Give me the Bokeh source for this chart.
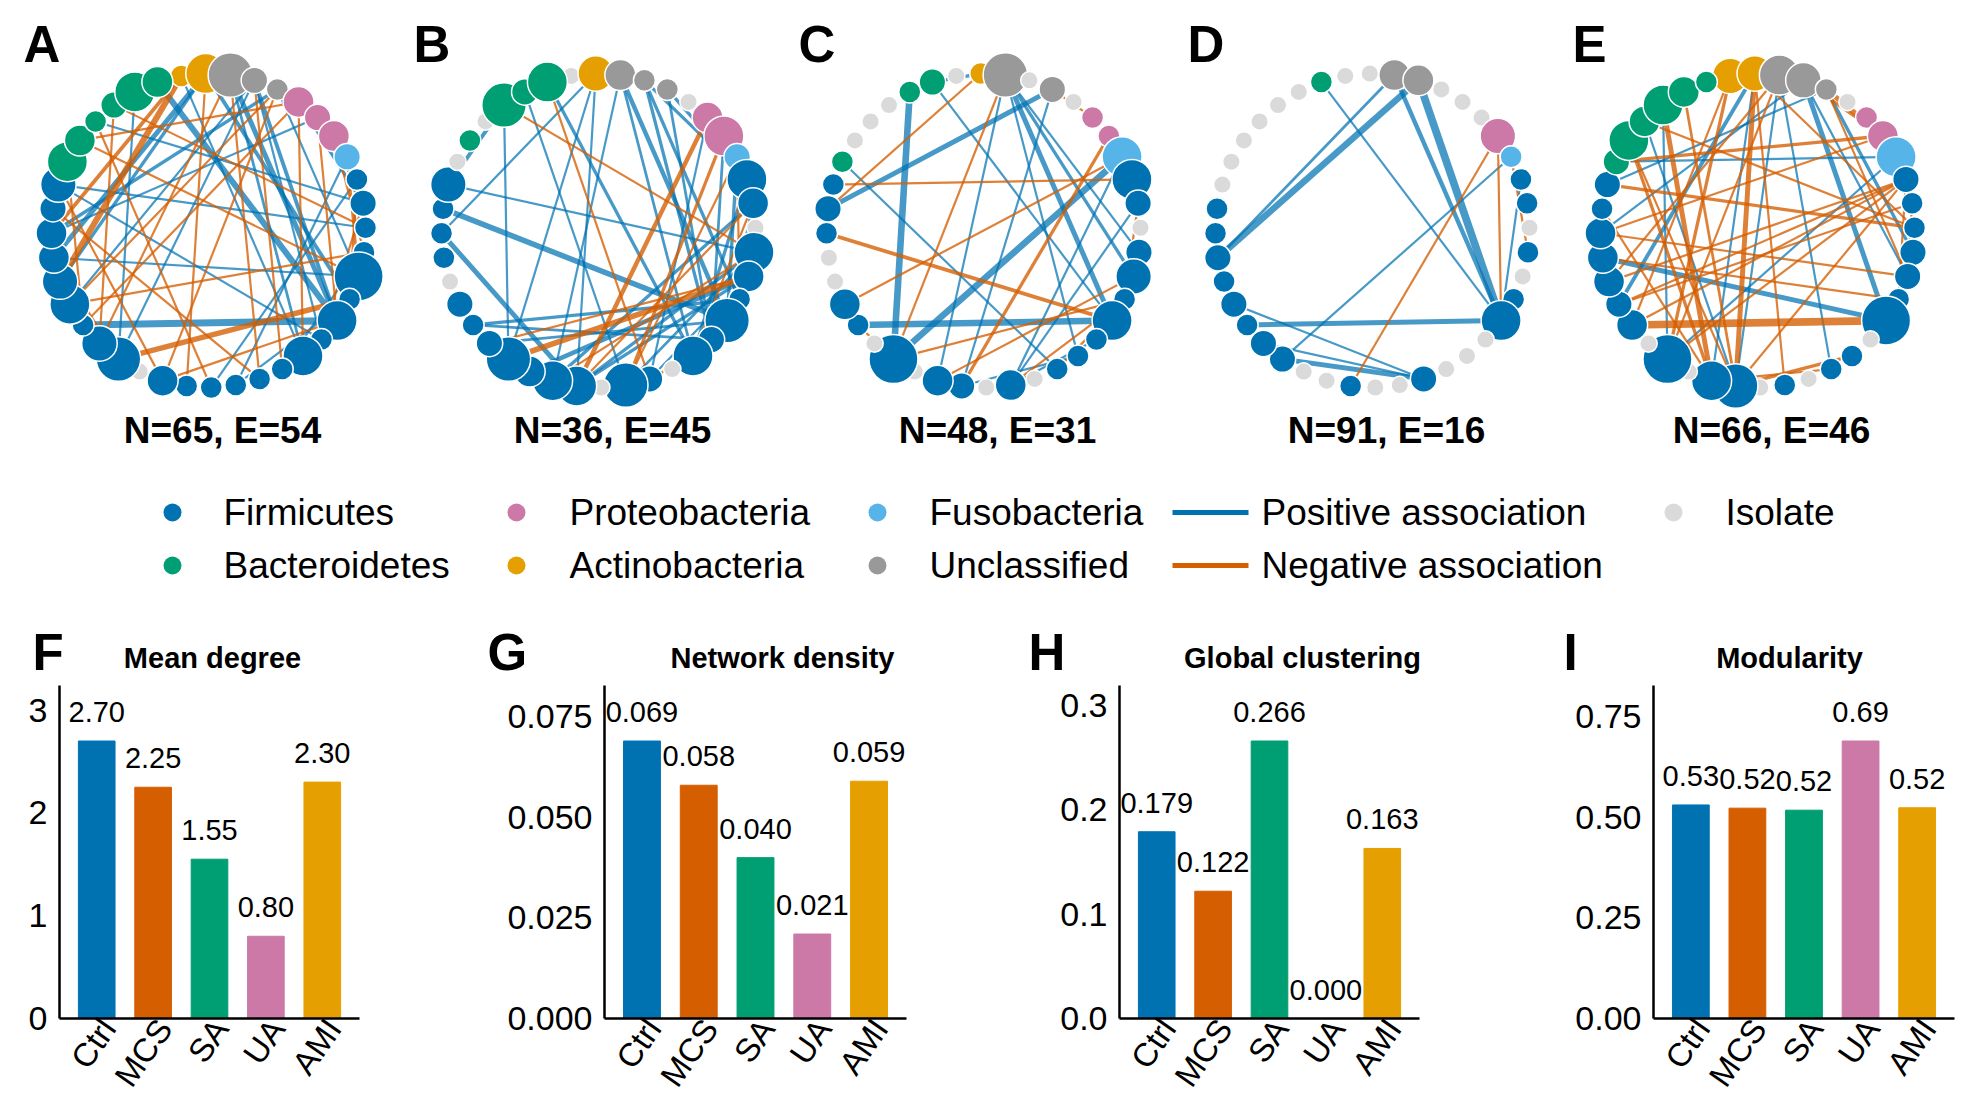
import numpy as np
from bokeh.plotting import figure
from bokeh.layouts import column, row
from bokeh.models import Range1d, FixedTicker, PrintfTickFormatter
from bokeh.core.properties import value
from bokeh.embed import file_html
from bokeh.resources import INLINE

FONT = "Liberation Sans"

# ---------------- data ----------------
phylum_names = ["Firmicutes", "Bacteroidetes", "Proteobacteria", "Actinobacteria",
                "Fusobacteria", "Unclassified", "Isolate"]
phylum_codes = ["Fi", "Ba", "Pr", "Ac", "Fu", "Un", "Is"]
phylum_colors = ["#0072B2", "#009E73", "#CC79A7", "#E69F00", "#56B4E9", "#999999", "#DADADA"]

panel_letters = ["A", "B", "C", "D", "E"]
net_N = [65, 36, 48, 91, 66]
net_E = [54, 45, 31, 16, 46]

# node phylum per position around the circle (clockwise from top)
nodes_A = ["Ac", "Ac", "Un", "Un", "Un", "Pr", "Pr", "Pr", "Fu",
           "Fi", "Fi", "Fi", "Fi", "Fi", "Fi", "Fi", "Fi", "Fi", "Fi", "Fi", "Fi", "Fi", "Fi", "Fi",
           "Is", "Fi", "Fi", "Fi", "Fi", "Fi", "Fi", "Fi", "Fi", "Fi",
           "Ba", "Ba", "Ba", "Ba", "Ba", "Ba"]
abund_A = [2, 6, 7, 3, 2, 4, 3, 4, 3,
           2, 3, 2, 2, 8, 2, 6, 2, 6, 2, 2, 2, 2, 2, 4,
           1, 7, 5, 2, 6, 5, 4, 4, 3, 5,
           6, 4, 2, 3, 6, 4]
nodes_B = ["Is", "Ac", "Un", "Un", "Un", "Is", "Pr", "Pr", "Fu", "Fi",
           "Fi", "Is", "Fi", "Fi", "Fi", "Fi", "Fi", "Fi", "Is", "Fi",
           "Fi", "Is", "Fi", "Fi", "Fi", "Fi", "Fi", "Fi", "Fi", "Is",
           "Fi", "Fi", "Fi", "Fi", "Is", "Ba", "Is", "Ba", "Ba", "Ba"]
abund_B = [1, 5, 4, 2, 2, 1, 4, 6, 3, 6,
           4, 1, 6, 4, 2, 7, 3, 6, 1, 3,
           7, 1, 6, 6, 4, 7, 3, 2, 3, 1,
           2, 2, 2, 5, 1, 2, 1, 7, 3, 6]
nodes_C = ["Is", "Ac", "Un", "Is", "Un", "Is", "Pr", "Pr", "Fu", "Fi",
           "Fi", "Is", "Fi", "Fi", "Fi", "Fi", "Fi", "Fi", "Fi", "Is",
           "Fi", "Is", "Fi", "Fi", "Is", "Fi", "Is", "Fi", "Fi", "Is",
           "Is", "Fi", "Fi", "Fi", "Ba", "Is", "Is", "Is", "Ba", "Ba"]
abund_C = [1, 2, 7, 1, 3, 1, 2, 2, 6, 6,
           3, 1, 3, 5, 2, 6, 2, 2, 2, 1,
           4, 1, 3, 4, 1, 8, 1, 2, 4, 1,
           1, 2, 3, 2, 2, 1, 1, 1, 2, 3]
nodes_D = ["Is", "Is", "Un", "Un", "Is", "Is", "Is", "Pr", "Fu", "Fi",
           "Fi", "Is", "Fi", "Is", "Fi", "Fi", "Is", "Is", "Is", "Fi",
           "Is", "Is", "Fi", "Is", "Is", "Fi", "Fi", "Fi", "Fi", "Fi",
           "Fi", "Fi", "Fi", "Is", "Is", "Is", "Is", "Is", "Is", "Ba"]
abund_D = [1, 1, 4, 4, 1, 1, 1, 5, 2, 2,
           2, 1, 2, 1, 2, 6, 1, 1, 1, 3,
           1, 1, 2, 1, 1, 3, 3, 2, 3, 2,
           3, 2, 2, 1, 1, 1, 1, 1, 1, 2]
nodes_E = ["Ac", "Ac", "Un", "Un", "Un", "Is", "Pr", "Pr", "Fu", "Fi",
           "Fi", "Fi", "Fi", "Fi", "Fi", "Fi", "Is", "Fi", "Fi", "Is",
           "Fi", "Is", "Fi", "Fi", "Is", "Fi", "Is", "Fi", "Fi", "Fi",
           "Fi", "Fi", "Fi", "Fi", "Ba", "Ba", "Ba", "Ba", "Ba", "Ba"]
abund_E = [5, 5, 6, 5, 2, 1, 2, 4, 6, 3,
           2, 2, 3, 3, 2, 8, 1, 2, 2, 1,
           2, 1, 7, 6, 1, 8, 1, 4, 3, 4,
           4, 4, 2, 3, 3, 6, 4, 6, 4, 2]

# edges: (node i, node j, sign, |correlation|)
edges_A = [(27, 15, 1, .75), (39, 15, 1, .65), (2, 15, 1, .55), (3, 15, 1, .45), (1, 30, 1, .55),
           (1, 29, 1, .4), (4, 31, 1, .4), (33, 11, 1, .3), (36, 10, 1, .3), (33, 16, 1, .3),
           (38, 25, 1, .3), (0, 17, 1, .3), (8, 20, 1, .3), (9, 21, 1, .3), (1, 14, 1, .45),
           (4, 13, 1, .3), (5, 10, 1, .4), (30, 13, 1, .3), (28, 3, 1, .3), (14, 20, 1, .3),
           (25, 3, 1, .3), (2, 17, 1, .35), (3, 16, 1, .3), (12, 18, 1, .3), (31, 6, 1, .3),
           (29, 0, -1, .65), (25, 14, -1, .6), (35, 5, -1, .3), (37, 11, -1, .3), (1, 22, -1, .3),
           (4, 23, -1, .3), (3, 18, -1, .3), (5, 17, -1, .3), (28, 12, -1, .3), (31, 26, -1, .3),
           (30, 25, -1, .3), (34, 27, -1, .3), (33, 23, -1, .3), (9, 14, -1, .3), (8, 13, -1, .35),
           (26, 2, -1, .3), (28, 4, -1, .3), (36, 21, -1, .3), (32, 19, -1, .3), (6, 15, -1, .3),
           (37, 26, -1, .3), (7, 12, -1, .3), (31, 0, -1, .45), (23, 15, -1, .3), (35, 13, -1, .3),
           (2, 19, -1, .3), (10, 16, -1, .3), (27, 5, -1, .3), (32, 27, -1, .3)]
edges_B = [(33, 37, 1, .45), (33, 12, 1, .3), (32, 15, 1, .6), (31, 22, 1, .55), (31, 1, 1, .3),
           (27, 14, 1, .4), (37, 25, 1, .3), (39, 2, 1, .4), (39, 17, 1, .4), (1, 22, 1, .3),
           (2, 23, 1, .3), (2, 15, 1, .5), (3, 14, 1, .4), (3, 9, 1, .4), (4, 9, 1, .4),
           (3, 16, 1, .4), (4, 16, 1, .35), (6, 19, 1, .3), (9, 17, 1, .4), (10, 15, 1, .3),
           (24, 13, 1, .5), (22, 12, 1, .4), (23, 10, 1, .4), (22, 13, 1, .4), (27, 16, 1, .35),
           (26, 15, 1, .35), (2, 17, 1, .35), (8, 15, 1, .4), (7, 16, 1, .35), (1, 25, 1, .3),
           (38, 20, 1, .3), (19, 13, 1, .3), (20, 12, 1, .35),
           (25, 13, -1, .6), (22, 6, -1, .5), (20, 7, -1, .4), (37, 12, -1, .3), (39, 19, -1, .3),
           (22, 10, -1, .3), (20, 8, -1, .3), (8, 14, -1, .3), (19, 17, -1, .35), (23, 12, -1, .3),
           (26, 13, -1, .3), (17, 10, -1, .3)]
edges_C = [(38, 25, 1, .7), (25, 8, 1, .7), (27, 15, 1, .7), (32, 4, 1, .55), (23, 2, 1, .3),
           (39, 15, 1, .3), (34, 18, 1, .3), (2, 15, 1, .55), (2, 17, 1, .3), (2, 12, 1, .3),
           (4, 22, 1, .3), (8, 20, 1, .3), (10, 20, 1, .3), (22, 17, 1, .3), (1, 39, 1, .4),
           (2, 13, 1, .4), (20, 16, 1, .3),
           (33, 9, -1, .3), (32, 1, -1, .3), (31, 15, -1, .45), (28, 8, -1, .3), (25, 14, -1, .3),
           (22, 7, -1, .4), (25, 2, -1, .3), (20, 14, -1, .3), (4, 6, -1, .3), (10, 14, -1, .3),
           (27, 25, -1, .3), (23, 13, -1, .3), (25, 23, -1, .3), (18, 14, -1, .3)]
edges_D = [(30, 2, 1, .35), (30, 3, 1, .7), (39, 15, 1, .3), (3, 15, 1, .8), (2, 15, 1, .5),
           (27, 15, 1, .55), (28, 19, 1, .3), (25, 19, 1, .55), (25, 8, 1, .3), (30, 29, 1, .3),
           (26, 19, 1, .3), (9, 15, 1, .3), (31, 29, 1, .3),
           (22, 7, -1, .3), (7, 15, -1, .3), (8, 12, -1, .3)]
edges_E = [(30, 15, 1, .55), (3, 15, 1, .55), (4, 12, 1, .4), (1, 28, 1, .45), (3, 31, 1, .3),
           (2, 22, 1, .3), (37, 25, 1, .3), (36, 22, 1, .3), (33, 4, 1, .3), (8, 25, 1, .3),
           (2, 18, 1, .3), (3, 13, 1, .3), (34, 8, 1, .3), (1, 23, 1, .3),
           (27, 15, -1, .8), (37, 23, -1, .55), (1, 22, -1, .55), (0, 25, -1, .4), (34, 7, -1, .4),
           (33, 11, -1, .4), (35, 23, -1, .4), (31, 13, -1, .3), (9, 28, -1, .3), (9, 25, -1, .3),
           (9, 22, -1, .3), (4, 7, -1, .55), (4, 13, -1, .3), (1, 11, -1, .3), (2, 25, -1, .3),
           (32, 23, -1, .3), (27, 9, -1, .3), (9, 14, -1, .3), (10, 13, -1, .3), (22, 17, -1, .4),
           (36, 11, -1, .3), (35, 22, -1, .3), (31, 7, -1, .3), (0, 27, -1, .3), (29, 9, -1, .3),
           (38, 22, -1, .35), (3, 7, -1, .4), (1, 20, -1, .3), (30, 14, -1, .3), (28, 10, -1, .3),
           (23, 18, -1, .3), (2, 29, -1, .3)]

groups = ["Ctrl", "MCS", "SA", "UA", "AMI"]
group_colors = ["#0072B2", "#D55E00", "#009E73", "#CC79A7", "#E69F00"]
mean_degree = [2.70, 2.25, 1.55, 0.80, 2.30]
network_density = [0.069, 0.058, 0.040, 0.021, 0.059]
global_clustering = [0.179, 0.122, 0.266, 0.000, 0.163]
modularity = [0.531, 0.523, 0.518, 0.690, 0.524]

bar_titles = ["Mean degree", "Network density", "Global clustering", "Modularity"]
bar_letters = ["F", "G", "H", "I"]
ticks_F = [0, 1, 2, 3]
ticks_G = [0.0, 0.025, 0.050, 0.075]
ticks_H = [0.0, 0.1, 0.2, 0.3]
ticks_I = [0.0, 0.25, 0.50, 0.75]

legend_phyla = [["Firmicutes", "Bacteroidetes"], ["Proteobacteria", "Actinobacteria"],
                ["Fusobacteria", "Unclassified"]]
legend_edges = ["Positive association", "Negative association"]

# ---------------- top: networks + legend + bar-panel headings ----------------
POS_COL, NEG_COL = "#0072B2", "#D55E00"
col_of = dict(zip(phylum_codes, phylum_colors))

PAGE_W = 1962
TOP_BOTTOM = 685   # page y where the bar frames start
top = figure(width=PAGE_W, height=TOP_BOTTOM, x_range=Range1d(0, PAGE_W),
             y_range=Range1d(TOP_BOTTOM, 0),
             output_backend="svg", toolbar_location=None, x_axis_type=None, y_axis_type=None,
             min_border=0, outline_line_color=None)
top.xgrid.visible = False
top.ygrid.visible = False

centers_x = [208, 598, 983, 1372, 1757]
center_y = 230
R = 157
all_nodes = [nodes_A, nodes_B, nodes_C, nodes_D, nodes_E]
all_abund = [abund_A, abund_B, abund_C, abund_D, abund_E]
all_edges = [edges_A, edges_B, edges_C, edges_D, edges_E]


def txt(fig, xs, ys, texts, size, bold=False, align="left"):
    fig.text(x=xs, y=ys, text=texts, text_align=align, text_baseline="middle",
             text_font_size=size, text_font_style="bold" if bold else "normal",
             text_font=value(FONT), text_color="black")


for k in range(5):
    nodes = all_nodes[k]
    n = len(nodes)
    ang = np.deg2rad(-10 + 360.0 / n * np.arange(n))
    nx = centers_x[k] + R * np.sin(ang)
    ny = center_y - R * np.cos(ang)
    ed = all_edges[k]
    x0 = [nx[e[0]] for e in ed]; y0 = [ny[e[0]] for e in ed]
    x1 = [nx[e[1]] for e in ed]; y1 = [ny[e[1]] for e in ed]
    lw = [2.2 + (e[3] - 0.3) * 11 for e in ed]
    cl = [POS_COL if e[2] > 0 else NEG_COL for e in ed]
    al = [0.72 if e[2] > 0 else 0.78 for e in ed]
    top.segment(x0=x0, y0=y0, x1=x1, y1=y1, line_width=lw, line_color=cl, line_alpha=al)
    sizes = [13 + 4.5 * a for a in all_abund[k]]
    cols = [col_of[c] for c in nodes]
    top.scatter(x=nx, y=ny, size=sizes, fill_color=cols, line_color="white", line_width=1.5)
    txt(top, [centers_x[k] + 14], [430], [f"N={net_N[k]}, E={net_E[k]}"], "37px", True, "center")
    txt(top, [centers_x[k] - 185], [44], [panel_letters[k]], "51px", True)

# legend
leg_rows = [512, 565]
dot_x = [172, 516, 877]
txt_x = [223, 569, 929]
for c in range(3):
    for r in range(2):
        name = legend_phyla[c][r]
        top.scatter(x=[dot_x[c]], y=[leg_rows[r]], size=18,
                    fill_color=phylum_colors[phylum_names.index(name)], line_color=None)
        txt(top, [txt_x[c]], [leg_rows[r]], [name], "37px")
for r, (lab, lc) in enumerate(zip(legend_edges, [POS_COL, NEG_COL])):
    top.segment(x0=[1172], y0=[leg_rows[r]], x1=[1248], y1=[leg_rows[r]], line_color=lc, line_width=5)
    txt(top, [1261], [leg_rows[r]], [lab], "37px")
top.scatter(x=[1673], y=[leg_rows[0]], size=18, fill_color=phylum_colors[6], line_color=None)
txt(top, [1725], [leg_rows[0]], ["Isolate"], "37px")

# headings of the bar panels (drawn in the top canvas, just above the bar frames)
title_cx = [212, 782, 1302, 1789]
letter_x = [32, 487, 1028, 1563]
txt(top, title_cx, [657] * 4, bar_titles, "29px", True, "center")
txt(top, letter_x, [652] * 4, bar_letters, "51px", True)

# ---------------- bottom: bar panels ----------------
H_BOT = 1110 - TOP_BOTTOM
B_BOT = 92
XS, XE = -0.66, 4.66
LABEL_SHIFT = 0.2


def bar_panel(vals, dec, ticks, tick_dec, w, bl, br):
    ymax = max(vals) * 1.2
    p = figure(width=w, height=H_BOT, x_range=Range1d(XS, XE), y_range=Range1d(0, ymax),
               min_border_left=bl, min_border_right=br, min_border_top=0, min_border_bottom=B_BOT,
               output_backend="svg", toolbar_location=None, outline_line_color=None)
    p.xgrid.visible = False
    p.ygrid.visible = False
    idx = list(range(len(groups)))
    p.vbar(x=idx, top=vals, width=0.65, fill_color=group_colors, line_color=group_colors)
    p.text(x=idx, y=vals, text=[f"{v:.{dec}f}" for v in vals], text_align="center",
           text_baseline="middle", y_offset=-29, text_font_size="29px",
           text_font=value(FONT), text_color="black")
    for ax in (p.xaxis[0], p.yaxis[0]):
        ax.axis_line_width = 2.5
        ax.axis_line_color = "black"
        ax.major_tick_line_color = None
        ax.minor_tick_line_color = None
        ax.major_tick_out = 0
        ax.major_tick_in = 0
        ax.major_label_text_font = FONT
        ax.major_label_text_color = "black"
    p.yaxis.ticker = FixedTicker(ticks=ticks)
    p.yaxis.formatter = PrintfTickFormatter(format=f"%.{tick_dec}f")
    p.yaxis.major_label_text_font_size = "34px"
    p.yaxis.major_label_standoff = 12
    lab_pos = [i + LABEL_SHIFT for i in idx]
    p.xaxis.ticker = FixedTicker(ticks=lab_pos)
    p.xaxis.major_label_overrides = {pos: g for pos, g in zip(lab_pos, groups)}
    p.xaxis.major_label_text_font_size = "33px"
    p.xaxis.major_label_orientation = np.deg2rad(55)
    p.xaxis.major_label_standoff = 4
    return p


pF = bar_panel(mean_degree, 2, ticks_F, 0, 480, 59, 121)
pG = bar_panel(network_density, 3, ticks_G, 3, 520, 124, 94)
pH = bar_panel(global_clustering, 3, ticks_H, 1, 510, 119, 91)
pI = bar_panel(modularity, 2, ticks_I, 2, 452, 143, 8)

layout = column(top, row(pF, pG, pH, pI, spacing=0), spacing=0)
open("out.html", "w").write(file_html(layout, INLINE))
